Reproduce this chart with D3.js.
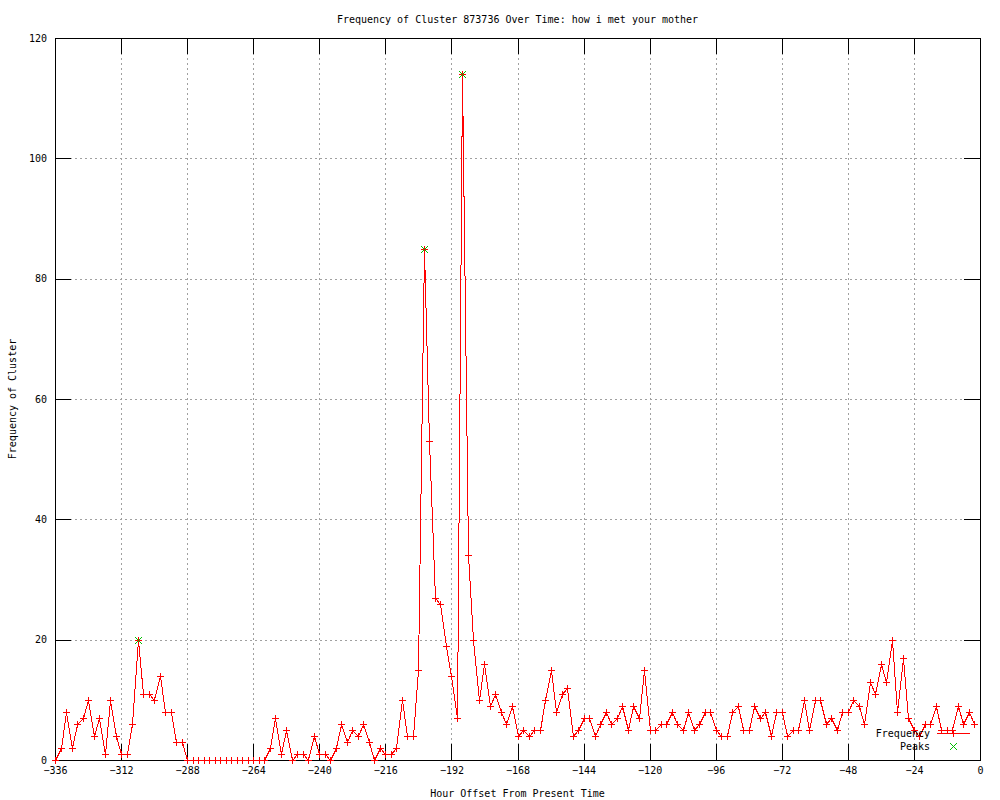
<!DOCTYPE html>
<html>
<head>
<meta charset="utf-8">
<script src="https://cdn.jsdelivr.net/npm/d3@7"></script>
<style>
  html, body { margin: 0; padding: 0; background: #fff; }
  svg { display: block; }
  text { font-family: "DejaVu Sans Mono", "Liberation Mono", monospace; font-size: 10px; fill: #000; }
</style>
</head>
<body>
<svg id="chart" width="1000" height="800"></svg>
<script>
// ---- Data ----
const titleText = "Frequency of Cluster 873736 Over Time: how i met your mother";
const xLabelText = "Hour Offset From Present Time";
const yLabelText = "Frequency of Cluster";

const xTicks = [-336, -312, -288, -264, -240, -216, -192, -168, -144, -120, -96, -72, -48, -24, 0];
const yTicks = [0, 20, 40, 60, 80, 100, 120];

// hourly offsets, every 2 hours from -336 to -2
const hourStart = -336, hourStep = 2;
const frequency = [
  0, 2, 8, 2, 6, 7, 10, 4, 7, 1, 10, 4, 1, 1, 6, 20, 11, 11, 10, 14, 8, 8, 3, 3,
  0, 0, 0, 0, 0, 0, 0, 0, 0, 0, 0, 0, 0, 0, 0,
  2, 7, 1, 5, 0, 1, 1, 0, 4, 1, 1, 0, 2, 6, 3, 5, 4, 6, 3, 0, 2, 1, 1, 2, 10, 4, 4, 15,
  85, 53, 27, 26, 19, 14, 7, 114, 34, 20, 10, 16, 9, 11, 8, 6, 9,
  4, 5, 4, 5, 5, 10, 15, 8, 11, 12, 4, 5, 7, 7, 4, 6, 8, 6, 7, 9, 5, 9, 7, 15,
  5, 5, 6, 6, 8, 6, 5, 8, 5, 6, 8, 8, 5, 4, 4, 8, 9, 5, 5, 9, 7, 8, 4, 8,
  8, 4, 5, 5, 10, 5, 10, 10, 6, 7, 5, 8, 8, 10, 9, 6, 13, 11, 16, 13, 20, 8, 17, 7,
  5, 4, 6, 6, 9, 5, 5, 5, 9, 6, 8, 6
];
const hours = frequency.map((_, i) => hourStart + i * hourStep);

const peakHours = [-306, -202, -188];
const peakValues = [20, 85, 114];

const legendLabels = ["Frequency", "Peaks"];

// ---- Layout ----
const plot = { left: 55, right: 980, top: 38, bottom: 760 };
const RED = "#ff0000", GREEN = "#00c000", GRID = "#a0a0a0";

const svg = d3.select("#chart");
const x = d3.scaleLinear().domain([-336, 0]).range([plot.left, plot.right]);
const y = d3.scaleLinear().domain([0, 120]).range([plot.bottom, plot.top]);
const px = v => Math.round(x(v)) + 0.5;
const py = v => Math.round(y(v)) + 0.5;

// grid
const grid = svg.append("g").attr("shape-rendering", "crispEdges");
grid.selectAll("line.gx").data(xTicks.slice(1, -1)).join("line")
  .attr("x1", d => px(d)).attr("x2", d => px(d))
  .attr("y1", plot.top).attr("y2", plot.bottom)
  .attr("stroke", GRID).attr("stroke-dasharray", "2,3");
grid.selectAll("line.gy").data(yTicks.slice(1, -1)).join("line")
  .attr("y1", d => py(d)).attr("y2", d => py(d))
  .attr("x1", plot.left).attr("x2", plot.right)
  .attr("stroke", GRID).attr("stroke-dasharray", "2,3");

// axes (gnuplot-style: ticks inward on all four sides, mirrored)
const tickLen = 16;
const axB = d3.axisBottom(x).tickValues(xTicks).tickSizeInner(-tickLen).tickSizeOuter(0).tickPadding(7).tickFormat(d3.format("d"));
const axT = d3.axisTop(x).tickValues(xTicks).tickSizeInner(-tickLen).tickSizeOuter(0).tickFormat("");
const axL = d3.axisLeft(y).tickValues(yTicks).tickSizeInner(-tickLen).tickSizeOuter(0).tickPadding(8).tickFormat(d3.format("d"));
const axR = d3.axisRight(y).tickValues(yTicks).tickSizeInner(-tickLen).tickSizeOuter(0).tickFormat("");

function styleAxis(g) {
  g.attr("shape-rendering", "crispEdges");
  g.select(".domain").remove();
  g.selectAll(".tick line").attr("stroke", "#000");
  g.selectAll("text").attr("fill", "#000")
    .style("font-family", "'DejaVu Sans Mono', 'Liberation Mono', monospace").style("font-size", "10px");
}
svg.append("g").attr("transform", `translate(0,${plot.bottom})`).call(axB).call(styleAxis);
svg.append("g").attr("transform", `translate(0,${plot.top})`).call(axT).call(styleAxis);
svg.append("g").attr("transform", `translate(${plot.left},0)`).call(axL).call(styleAxis);
svg.append("g").attr("transform", `translate(${plot.right},0)`).call(axR).call(styleAxis);

// border
svg.append("rect")
  .attr("x", plot.left + 0.5).attr("y", plot.top + 0.5)
  .attr("width", plot.right - plot.left).attr("height", plot.bottom - plot.top)
  .attr("fill", "none").attr("stroke", "#000").attr("shape-rendering", "crispEdges");

// frequency line (aliased, like the gnuplot bitmap output)
const line = d3.line().x((d, i) => px(hours[i])).y(d => py(d));
svg.append("path").datum(frequency)
  .attr("d", line).attr("fill", "none").attr("stroke", RED).attr("stroke-width", 1)
  .attr("shape-rendering", "crispEdges");

// plus markers
const ps = 3.5;
function plus(cx, cy) { return `M${cx - ps},${cy}H${cx + ps}M${cx},${cy - ps}V${cy + ps}`; }
function cross(cx, cy) { return `M${cx - ps},${cy - ps}L${cx + ps},${cy + ps}M${cx - ps},${cy + ps}L${cx + ps},${cy - ps}`; }

svg.append("g").selectAll("path").data(frequency).join("path")
  .attr("d", (d, i) => plus(px(hours[i]), py(d)))
  .attr("stroke", RED).attr("stroke-width", 1).attr("fill", "none").attr("shape-rendering", "crispEdges");

// peaks
svg.append("g").selectAll("path").data(peakValues).join("path")
  .attr("d", (d, i) => cross(px(peakHours[i]), py(d)))
  .attr("stroke", GREEN).attr("stroke-width", 1).attr("fill", "none").attr("shape-rendering", "crispEdges");

// legend
const legX = 930, legY = [733, 746];
svg.append("text").attr("x", legX).attr("y", legY[0] + 4).attr("text-anchor", "end").text(legendLabels[0]);
svg.append("text").attr("x", legX).attr("y", legY[1] + 4).attr("text-anchor", "end").text(legendLabels[1]);
svg.append("path").attr("d", `M937,${legY[0] + 0.5}H970`)
  .attr("stroke", RED).attr("stroke-width", 1).attr("fill", "none").attr("shape-rendering", "crispEdges");
svg.append("path").attr("d", plus(953.5, legY[0] + 0.5)).attr("stroke", RED).attr("fill", "none").attr("shape-rendering", "crispEdges");
svg.append("path").attr("d", cross(953.5, legY[1] + 0.5)).attr("stroke", GREEN).attr("fill", "none").attr("shape-rendering", "crispEdges");

// titles
svg.append("text").attr("x", (plot.left + plot.right) / 2).attr("y", 23)
  .attr("text-anchor", "middle").text(titleText);
svg.append("text").attr("x", (plot.left + plot.right) / 2).attr("y", 797)
  .attr("text-anchor", "middle").text(xLabelText);
svg.append("text").attr("transform", `translate(16,${(plot.top + plot.bottom) / 2}) rotate(-90)`)
  .attr("text-anchor", "middle").text(yLabelText);
</script>
</body>
</html>
